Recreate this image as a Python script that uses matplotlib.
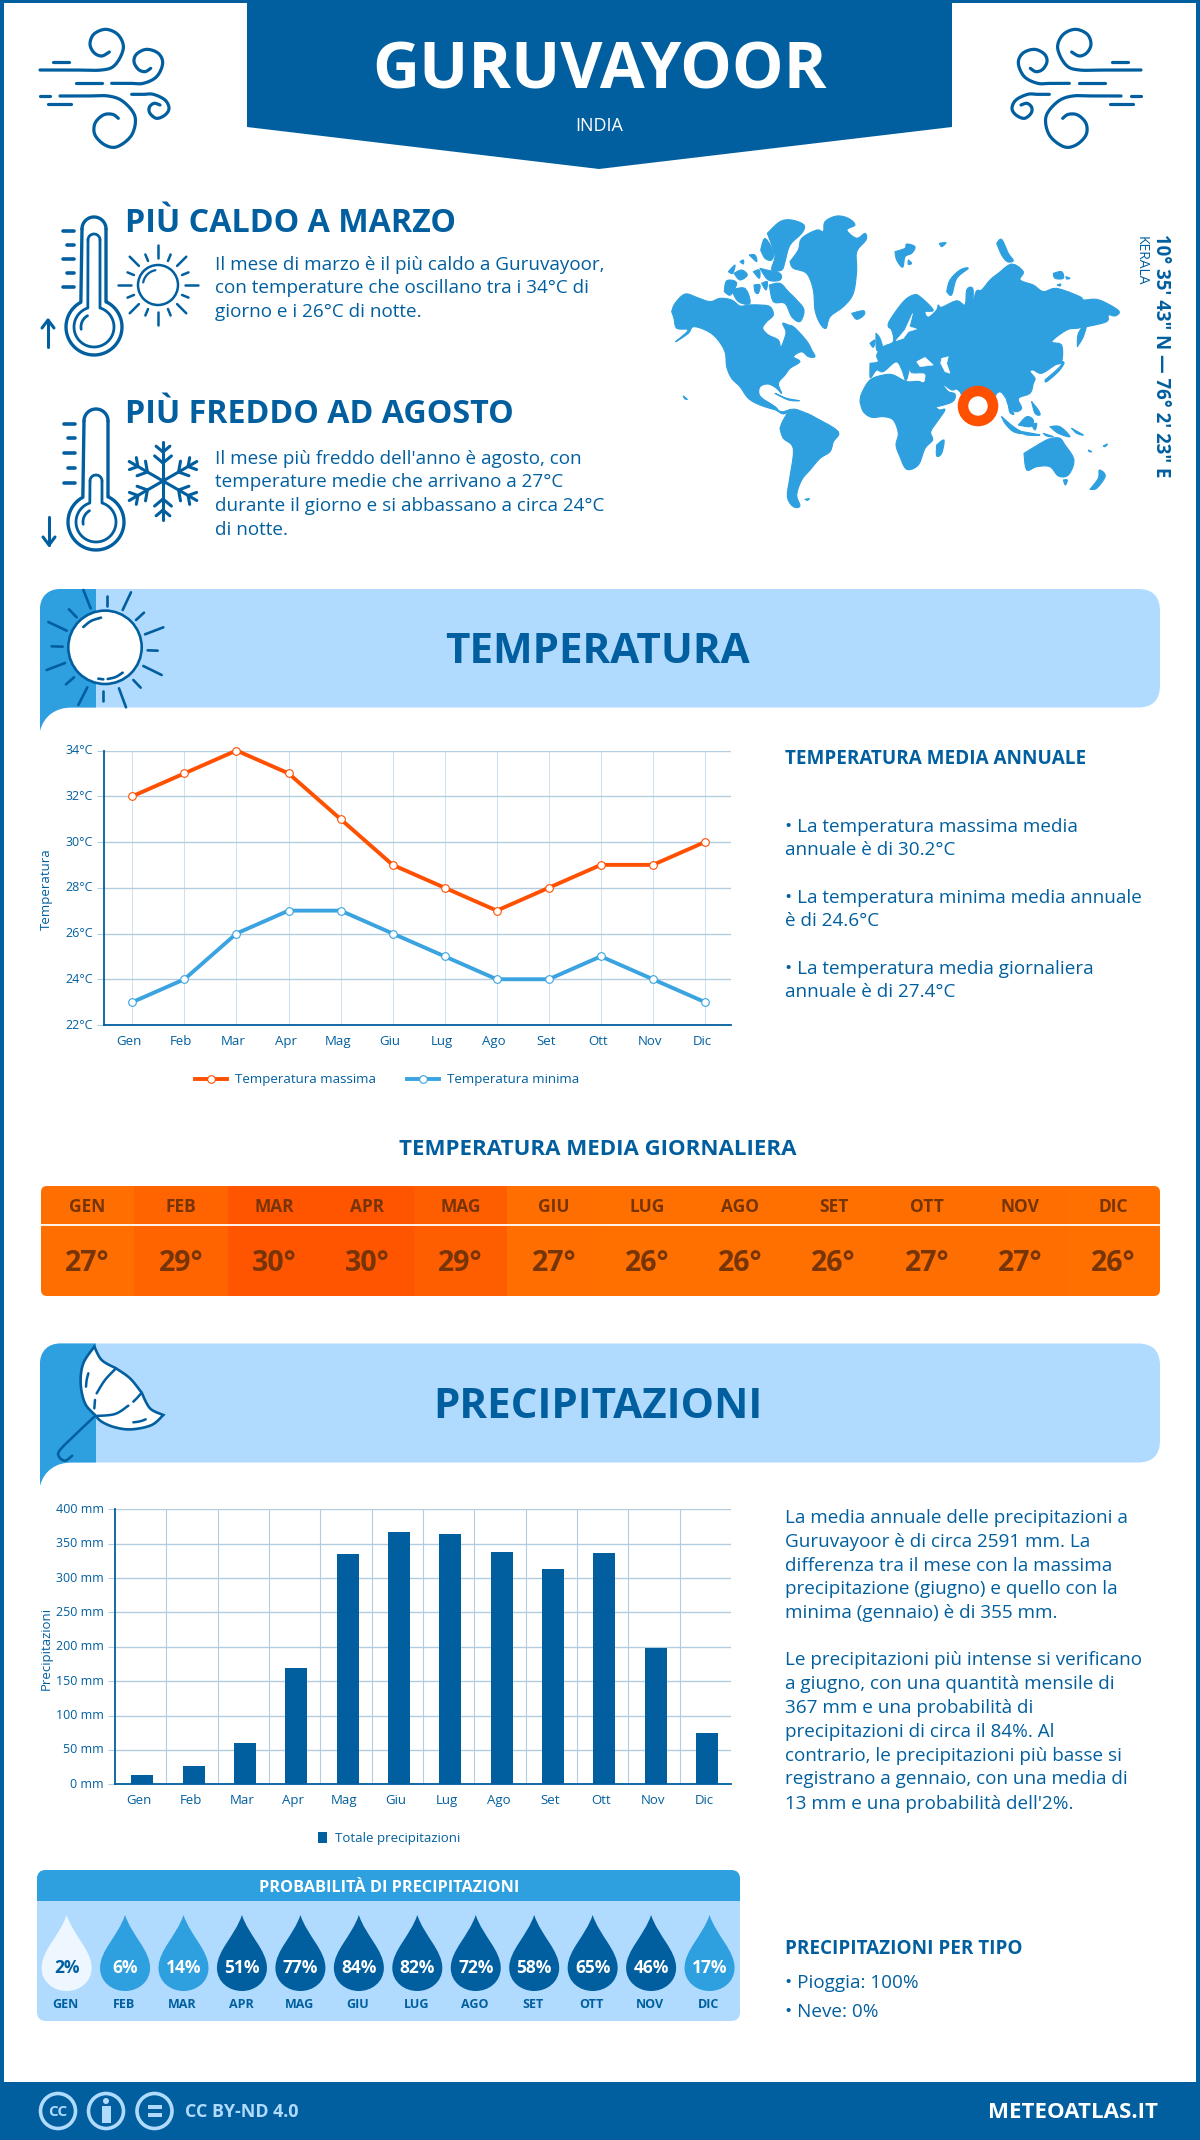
import numpy as np
import matplotlib
matplotlib.use('Agg')
import matplotlib.pyplot as plt
from matplotlib.patches import Circle, Polygon, Rectangle, FancyBboxPatch, PathPatch
from matplotlib.path import Path
from matplotlib.transforms import ScaledTranslation

plt.rcParams['font.family'] = ['Open Sans', 'DejaVu Sans']

# Colores
DARK = '#015F9F'
MID = '#2E9FDF'
LIGHT = '#B0DBFF'
ORANGE = '#FF5000'
GRID = '#B4CCE0'
BROWN = '#773406'

# Datos
mesi = ['Gen', 'Feb', 'Mar', 'Apr', 'Mag', 'Giu', 'Lug', 'Ago', 'Set', 'Ott', 'Nov', 'Dic']
mesi_upper = [m.upper() for m in mesi]
t_max = [32, 33, 34, 33, 31, 29, 28, 27, 28, 29, 29, 30]
t_min = [23, 24, 26, 27, 27, 26, 25, 24, 24, 25, 24, 23]
t_ticks = [22, 24, 26, 28, 30, 32, 34]
t_media = [27, 29, 30, 30, 29, 27, 26, 26, 26, 27, 27, 26]
t_colors = ['#FF6E00', '#FF6400', '#FF5500', '#FF5500', '#FF5E00', '#FF6E00',
            '#FF7000', '#FF7000', '#FF7000', '#FF6E00', '#FF6E00', '#FF7000']
precip = [13, 27, 60, 169, 335, 367, 364, 338, 313, 336, 198, 75]
p_ticks = [0, 50, 100, 150, 200, 250, 300, 350, 400]
prob = [2, 6, 14, 51, 77, 84, 82, 72, 58, 65, 46, 17]

W, H = 1200, 2140
BODY = 13.6
fig = plt.figure(figsize=(W / 100, H / 100), dpi=100)
bg = fig.add_axes([0, 0, 1, 1])
bg.set_xlim(0, W)
bg.set_ylim(H, 0)
bg.axis('off')


def txt(x, y, s, size, color=DARK, weight='normal', ha='left', va='center', **kw):
    bg.text(x, y + 0.14 * size, s, fontsize=size, color=color, fontweight=weight, ha=ha, va=va, **kw)


def stroke(xs, ys, lw=2.2, color=DARK, **kw):
    bg.plot(xs, ys, color=color, lw=lw, solid_capstyle='round', solid_joinstyle='round', **kw)


def arc(cx, cy, r0, r1, a0, a1, n=60):
    a = np.radians(np.linspace(a0, a1, n))
    r = np.linspace(r0, r1, n)
    return cx + r * np.cos(a), cy + r * np.sin(a)


def smooth(pts, n=12):
    # Catmull-Rom para los iconos
    p = np.array([pts[0]] + list(pts) + [pts[-1]], dtype=float)
    out = []
    for i in range(1, len(p) - 2):
        for t in np.linspace(0, 1, n, endpoint=False):
            out.append(0.5 * (2 * p[i] + (p[i + 1] - p[i - 1]) * t
                              + (2 * p[i - 1] - 5 * p[i] + 4 * p[i + 1] - p[i + 2]) * t ** 2
                              + (3 * p[i] - p[i - 1] - 3 * p[i + 1] + p[i + 2]) * t ** 3))
    out.append(p[-2])
    return np.array(out)


def crop(ox, oy, pts):
    return [(ox + a / 3, oy + b / 3) for a, b in pts]


def land(pts, color=MID, lw=0.8):
    xy = smooth(list(pts) + [pts[0]], n=4)
    bg.add_patch(Polygon(xy, fc=color, ec=color, lw=lw, joinstyle='round'))


# Marco y pie
bg.add_patch(Rectangle((0, 0), W, 3, color=DARK, lw=0))
bg.add_patch(Rectangle((0, 0), 4, H, color=DARK, lw=0))
bg.add_patch(Rectangle((W - 4, 0), 4, H, color=DARK, lw=0))
bg.add_patch(Rectangle((0, 2082), W, 58, color=DARK, lw=0))

# Cabecera
bg.add_patch(Polygon([(247, 0), (952, 0), (952, 127), (599, 169), (247, 127)], color=DARK, lw=0))
txt(600, 65, 'GURUVAYOOR', 46.8, color='white', weight='bold', ha='center')
txt(599, 124.5, 'INDIA', 13, color='white', ha='center')

wind_curves = [
    [(30, 150), (130, 150), (215, 150), (255, 135), (280, 85), (265, 45), (228, 28), (192, 42), (180, 72), (192, 98),
     (215, 108), (238, 96)],
    [(245, 190), (300, 190), (340, 190), (380, 170), (398, 130), (385, 100), (350, 88), (320, 102), (312, 125),
     (325, 148), (345, 155), (362, 145)],
    [(90, 228), (170, 228), (235, 228), (280, 245), (315, 290), (305, 345), (262, 380), (225, 375), (195, 345),
     (195, 310), (220, 285), (248, 283), (265, 295)],
    [(305, 223), (340, 223), (370, 223), (405, 240), (417, 265), (405, 285), (380, 295), (360, 280), (358, 262),
     (372, 250), (390, 255)],
    [(68, 125), (118, 125)], [(138, 190), (215, 190)], [(30, 228), (60, 228)], [(55, 253), (123, 253)],
]
for mx in [None, 1181]:
    for c in wind_curves:
        xy = smooth(crop(30, 20, c)) if len(c) > 2 else np.array(crop(30, 20, c))
        stroke(xy[:, 0] if mx is None else mx - xy[:, 0], xy[:, 1], lw=2.3)


def thermometer(cx, cy, top, inner_top, ticks, tx):
    x, y = arc(cx, cy, 28, 28, -62, 242)
    stroke(np.r_[cx - 12, x[::-1], cx + 12, cx + 12], np.r_[top + 12, y[::-1], cy - 25, top + 12], lw=2.4)
    x, y = arc(cx, top + 12, 12, 12, 180, 360)
    stroke(x, y, lw=2.4)
    x, y = arc(cx, cy, 20, 20, -72, 252)
    stroke(np.r_[cx - 6, x[::-1], cx + 6, cx + 6], np.r_[inner_top + 6, y[::-1], cy - 19, inner_top + 6], lw=2.0)
    x, y = arc(cx, inner_top + 6, 6, 6, 180, 360)
    stroke(x, y, lw=2.0)
    x, y = arc(cx, cy, 13, 13, 170, 240)
    stroke(x, y, lw=2.0)
    for i, ty in enumerate(ticks):
        stroke([tx if i % 2 == 0 else tx + 4, tx + 11], [ty, ty], lw=2.6)


thermometer(94, 327, 217, 234, [231, 245, 259, 273, 287], 63)
thermometer(96, 522, 409, 475, [424, 438, 453, 468, 483], 64)
# flechas
stroke([48, 48], [347, 320], lw=2.2)
stroke([42, 48, 54], [328, 320, 328], lw=2.2)
stroke([49, 49], [517, 545], lw=2.2)
stroke([43, 49, 55], [537, 545, 537], lw=2.2)

# Sol pequeño
bg.add_patch(Circle((158, 285), 20, fc='white', ec=DARK, lw=1.8))
x, y = arc(158, 285, 15, 15, 190, 260)
stroke(x, y, lw=1.6)
for i, a in enumerate(np.arange(0, 360, 22.5)):
    r0, r1 = (27, 40) if i % 2 == 0 else (26, 33)
    ca, sa = np.cos(np.radians(a)), np.sin(np.radians(a))
    stroke([158 + r0 * ca, 158 + r1 * ca], [285 + r0 * sa, 285 + r1 * sa], lw=1.8)

# Copo de nieve
for a in np.arange(30, 390, 60):
    ca, sa = np.cos(np.radians(a)), np.sin(np.radians(a))
    stroke([163, 163 + 39 * ca], [481, 481 + 39 * sa], lw=2.2)
    for d, s in [(18, 11), (29, 9)]:
        bx, by = 163 + d * ca, 481 + d * sa
        for off in (-50, 50):
            c2, s2 = np.cos(np.radians(a + off)), np.sin(np.radians(a + off))
            stroke([bx, bx + s * c2], [by, by + s * s2], lw=2.2)

# Bloques de texto superiores
txt(125, 220, 'PIÙ CALDO A MARZO', 23.2, weight='bold')
for y, s in zip([263, 286, 310], ['Il mese di marzo è il più caldo a Guruvayoor,',
                                  'con temperature che oscillano tra i 34°C di',
                                  'giorno e i 26°C di notte.']):
    txt(215, y, s, BODY)
txt(125, 411, 'PIÙ FREDDO AD AGOSTO', 23.2, weight='bold')
for y, s in zip([457, 480, 504, 528], ["Il mese più freddo dell'anno è agosto, con",
                                       'temperature medie che arrivano a 27°C',
                                       'durante il giorno e si abbassano a circa 24°C',
                                       'di notte.']):
    txt(215, y, s, BODY)

A = (660, 210)
B = (870, 230)
C = (760, 370)
mapa = [
    # Norteamérica
    (A, [(35, 305), (45, 280), (75, 252), (110, 262), (150, 275), (180, 265), (215, 270), (240, 288), (265, 285),
         (300, 285), (330, 290), (340, 315), (320, 335), (308, 355), (325, 375), (355, 390), (362, 412), (372, 390),
         (378, 365), (368, 340), (385, 345), (400, 350), (425, 375), (445, 400), (455, 420), (465, 440), (445, 440),
         (425, 425), (400, 440), (420, 455), (390, 475), (375, 495), (355, 520), (365, 550), (350, 535), (325, 522),
         (300, 530), (298, 555), (320, 575), (345, 590), (350, 600), (300, 585), (265, 565), (240, 530), (215, 505),
         (200, 470), (195, 425), (170, 385), (140, 362), (100, 350), (85, 370), (47, 395), (85, 360), (50, 355),
         (42, 325)]),
    # Groenlandia
    (A, [(390, 155), (415, 120), (425, 85), (470, 60), (490, 65), (495, 35), (530, 18), (565, 25), (585, 45),
         (560, 60), (590, 85), (615, 70), (618, 90), (590, 125), (590, 180), (580, 250), (550, 290), (510, 320),
         (498, 355), (480, 340), (465, 300), (460, 240), (440, 190), (400, 175)]),
    # Ártico canadiense
    (A, [(322, 70), (360, 35), (395, 30), (432, 45), (425, 70), (390, 105), (375, 155), (365, 180), (335, 180),
         (345, 140), (335, 105)]),
    (A, [(302, 120), (315, 85), (340, 125), (335, 150), (315, 145)]),
    (A, [(328, 225), (360, 220), (385, 245), (410, 270), (432, 300), (420, 335), (395, 320), (375, 280), (340, 275)]),
    (A, [(215, 240), (255, 235), (270, 280), (235, 275)]),
    (A, [(193, 245), (200, 212), (230, 218), (212, 255)]),
    (A, [(205, 185), (225, 165), (218, 190)]),
    (A, [(222, 190), (245, 180), (262, 195), (240, 210)]),
    (A, [(280, 185), (298, 180), (298, 205)]),
    (A, [(300, 175), (320, 180), (360, 190), (360, 210), (325, 210)]),
    (A, [(240, 155), (250, 150), (250, 162)]),
    (A, [(268, 135), (285, 135), (290, 155)]),
    (A, [(282, 225), (300, 225), (295, 250), (285, 245)]),
    (A, [(305, 220), (322, 215), (318, 240)]),
    # Islandia, Gran Bretaña, Irlanda, Cuba, Hawái
    (A, [(575, 310), (610, 302), (612, 315), (590, 328)]),
    (A, [(630, 400), (645, 390), (640, 412)]),
    (A, [(648, 370), (660, 385), (668, 418), (650, 420)]),
    (A, [(70, 558), (82, 568), (74, 566)]),
    # Centroamérica y Cuba
    (C, [(0, 85), (30, 100), (62, 125), (92, 118), (70, 132), (40, 115), (5, 98)]),
    (C, [(45, 70), (80, 85), (118, 92), (85, 90)]),
    # Sudamérica
    (C, [(60, 175), (70, 150), (95, 118), (135, 128), (170, 145), (235, 185), (220, 215), (210, 245), (180, 265),
         (150, 300), (125, 330), (110, 375), (120, 408), (100, 410), (82, 380), (90, 320), (100, 235), (70, 205)]),
    (C, [(135, 388), (148, 386), (142, 391)]),
    # África
    (C, [(300, 95), (305, 70), (330, 30), (370, 15), (400, 15), (440, 35), (490, 40), (530, 115), (555, 118),
         (535, 150), (512, 185), (518, 210), (495, 235), (475, 285), (440, 298), (420, 260), (408, 225), (415, 190),
         (400, 150), (370, 140), (335, 142), (310, 125)]),
    (C, [(530, 225), (552, 210), (545, 250), (530, 258)]),
    # Islas de Eurasia
    (B, [(75, 65), (105, 55), (110, 42), (135, 50), (125, 70), (105, 80), (98, 112), (80, 90)]),
    (B, [(115, 90), (125, 100), (115, 103)]),
    (B, [(208, 40), (228, 38), (215, 50)]),
    (B, [(230, 185), (240, 150), (270, 120), (295, 115), (260, 145), (245, 195)]),
    (B, [(380, 40), (395, 28), (415, 70), (430, 92), (412, 95), (395, 75)]),
    (B, [(550, 130), (575, 125), (580, 145), (555, 145)]),
    (B, [(588, 140), (600, 145), (590, 147)]),
    (B, [(562, 165), (572, 162), (570, 168)]),
    (B, [(622, 350), (625, 310), (650, 280), (640, 320)]),
    (B, [(525, 450), (570, 410), (575, 395), (582, 400), (565, 425), (530, 455)]),
    # Sudeste asiático y Oceanía
    (C, [(725, 140), (760, 170), (790, 190), (760, 185), (735, 160)]),
    (C, [(770, 182), (840, 195), (800, 195)]),
    (C, [(775, 165), (800, 140), (820, 150), (812, 170)]),
    (C, [(815, 165), (830, 160), (825, 180)]),
    (C, [(815, 95), (835, 120), (840, 135), (825, 130)]),
    (C, [(870, 170), (900, 170), (930, 200), (895, 190)]),
    (C, [(850, 190), (880, 200), (860, 198)]),
    (C, [(935, 175), (970, 195), (950, 190)]),
    (C, [(985, 240), (995, 245), (988, 245)]),
    (C, [(1030, 228), (1042, 222), (1036, 230)]),
    (C, [(792, 250), (850, 215), (875, 205), (900, 205), (915, 225), (942, 270), (925, 315), (895, 318), (870, 290),
         (830, 290), (800, 300)]),
    (C, [(910, 330), (922, 330), (916, 345)]),
    (C, [(990, 358), (1015, 325), (1018, 300), (1036, 318), (1010, 355)]),
]
eurasia = crop(*B, [(0, 400), (25, 395), (20, 375), (40, 350), (70, 335), (65, 300), (55, 290), (60, 270), (100, 215),
                    (130, 195), (150, 200), (190, 240), (165, 245), (175, 262), (200, 240), (205, 225), (215, 232),
                    (260, 212), (285, 225), (290, 180), (305, 172), (310, 190), (305, 240), (318, 185), (335, 180),
                    (360, 150), (385, 130), (425, 102), (460, 125), (450, 150), (490, 165), (520, 185), (560, 175),
                    (630, 200), (640, 210), (680, 208), (720, 225), (748, 245), (735, 258), (715, 255), (710, 275),
                    (650, 290), (620, 295), (590, 300), (545, 335), (575, 345), (575, 395), (555, 405), (515, 430),
                    (490, 420), (480, 425), (495, 445), (490, 460)])
eurasia += crop(*C, [(810, 70), (775, 85), (785, 115), (765, 125), (745, 105), (735, 80), (710, 70), (655, 165),
                     (600, 65), (575, 60), (548, 42), (565, 65), (585, 72), (578, 95), (530, 110), (520, 105),
                     (490, 45)])
eurasia += crop(*B, [(165, 455), (165, 430), (125, 428), (120, 412), (108, 452), (96, 420), (78, 395), (40, 425),
                     (20, 420), (5, 440), (0, 440)])
land(eurasia)
for o, poly in mapa:
    land(crop(*o, poly))
land(crop(*C, [(745, 105), (762, 132), (750, 128)]))
# huecos: Caspio, Negro, Báltico
for poly in [[(215, 385), (235, 380), (230, 400), (240, 430), (225, 425), (212, 400)],
             [(140, 395), (165, 382), (190, 405), (150, 410)],
             [(128, 250), (105, 300), (78, 332), (100, 325), (115, 305), (140, 297), (118, 290)]]:
    bg.add_patch(Polygon(crop(*B, poly), fc='white', ec='white', lw=0.4))
bg.add_patch(Circle((978, 406), 15, fc='white', ec=ORANGE, lw=7.6, zorder=5))
bg.text(1161, 356, '10° 35\' 43" N — 76° 2\' 23" E', fontsize=13.4, fontweight='bold', color=DARK,
        rotation=-90, ha='center', va='center')
bg.text(1141, 236, 'KERALA', fontsize=10, color=DARK, rotation=-90, ha='center', va='top')


def banner(y0, y1, curl_y, title):
    bg.add_patch(FancyBboxPatch((40, y0), 1120, y1 - y0, boxstyle='round,pad=0,rounding_size=22', fc=LIGHT, ec='none'))
    verts = [(40, curl_y), (44, y1 + 8), (56, y1), (72, y1), (96, y1), (96, y0), (60, y0), (48, y0), (40, y0 + 8),
             (40, y0 + 20), (40, curl_y)]
    codes = [Path.MOVETO, Path.CURVE4, Path.CURVE4, Path.CURVE4, Path.LINETO, Path.LINETO, Path.LINETO,
             Path.CURVE4, Path.CURVE4, Path.CURVE4, Path.LINETO]
    bg.add_patch(PathPatch(Path(verts, codes), fc=MID, ec='none'))
    txt(598, (y0 + y1) / 2, title, 30.3, weight='bold', ha='center')


banner(589, 707.5, 731, 'TEMPERATURA')
banner(1343.5, 1462.5, 1486, 'PRECIPITAZIONI')

# Sol del banner
rays = [((145, 15), (167, 70)), ((215, 33), (215, 63)), ((288, 22), (263, 75)), ((327, 83), (303, 105)),
        ((385, 127), (330, 148)), ((368, 197), (338, 196)), ((380, 270), (325, 243)), ((317, 308), (295, 285)),
        ((273, 367), (252, 310)), ((203, 349), (203, 318)), ((130, 360), (157, 307)), ((93, 298), (117, 277)),
        ((35, 255), (90, 234)), ((83, 185), (50, 184)), ((95, 137), (40, 111)), ((125, 97), (102, 73))]
for r in rays:
    xy = np.array(crop(35, 585, r))
    stroke(xy[:, 0], xy[:, 1], lw=1.9)
bg.add_patch(Circle((105, 647.3), 36.7, fc='white', ec=DARK, lw=1.9))
for c in [[(145, 126), (168, 108), (198, 98)], [(218, 282), (242, 276), (263, 263)], [(190, 281), (205, 283)]]:
    xy = smooth(crop(35, 585, c)) if len(c) > 2 else np.array(crop(35, 585, c))
    stroke(xy[:, 0], xy[:, 1], lw=1.9)

# Paraguas
canopy = [(178, 20), (200, 60), (243, 85), (285, 115), (320, 158), (345, 205), (385, 225), (350, 255), (290, 268),
          (240, 262), (200, 245), (180, 225), (150, 190), (137, 130), (145, 70), (178, 20)]
xy = np.vstack([smooth(crop(35, 1340, canopy[i:j])) for i, j in [(0, 3), (2, 5), (4, 7), (6, 12), (11, 16)]])
bg.add_patch(Polygon(xy, fc='white', ec=DARK, lw=1.9, joinstyle='miter'))
for c in [[(243, 85), (210, 120), (185, 160)], [(180, 180), (179, 192), (178, 205)], [(320, 158), (308, 172), (295, 185)],
          [(280, 197), (240, 222), (183, 228)], [(160, 100), (155, 120), (153, 140)], [(295, 247), (315, 244), (332, 238)],
          [(180, 228), (125, 280), (75, 330), (72, 350), (90, 362), (112, 347)]]:
    xy = smooth(crop(35, 1340, c))
    stroke(xy[:, 0], xy[:, 1], lw=1.8)


def px_axes(x0, x1, y_top, y_bot):
    return fig.add_axes([x0 / W, 1 - y_bot / H, (x1 - x0) / W, (y_bot - y_top) / H], facecolor='none')


def style_chart(ax, ylab, lab_x, lab_y, dx):
    for s in ['top', 'right']:
        ax.spines[s].set_visible(False)
    for s in ['left', 'bottom']:
        ax.spines[s].set_color(DARK)
        ax.spines[s].set_linewidth(1.3)
    ax.set_axisbelow(True)
    ax.tick_params(axis='y', length=5, width=0.8, color=GRID, labelsize=9, labelcolor=DARK, pad=3)
    ax.tick_params(axis='x', length=0, labelsize=9.5, labelcolor=DARK, pad=7)
    bg.text(lab_x, lab_y, ylab, fontsize=9.5, color=DARK, rotation=90, ha='center', va='center')
    off = ScaledTranslation(dx / 100, 0, fig.dpi_scale_trans)
    for lab in ax.get_xticklabels():
        lab.set_transform(lab.get_transform() + off)
    up = ScaledTranslation(0, 1.5 / 100, fig.dpi_scale_trans)
    for lab in ax.get_yticklabels():
        lab.set_transform(lab.get_transform() + up)


# Gráfico de temperatura
ax1 = px_axes(104, 731, 750.5, 1025)
ax1.set_xlim(-0.545, 11.5)
ax1.set_ylim(22, 34)
ax1.set_xticks(range(12))
ax1.set_xticklabels(mesi)
ax1.set_yticks(t_ticks)
ax1.set_yticklabels([f'{t}°C' for t in t_ticks])
ax1.grid(axis='y', color=GRID, lw=1.0)
ax1.grid(axis='x', color='#C6DBEB', lw=0.6)
l1, = ax1.plot(range(12), t_max, color=ORANGE, lw=2.8, marker='o', ms=5.5, mfc='white', mec=ORANGE, mew=0.8,
               label='Temperatura massima', clip_on=False)
l2, = ax1.plot(range(12), t_min, color='#3AA3E0', lw=2.8, marker='o', ms=5.5, mfc='white', mec='#3AA3E0', mew=0.8,
               label='Temperatura minima', clip_on=False)
style_chart(ax1, 'Temperatura', 46, 889, -3)
fig.legend(handles=[l1, l2], loc='center', bbox_to_anchor=(387 / W, 1 - 1080 / H), ncol=2, frameon=False,
           fontsize=9.5, labelcolor=DARK, handlelength=2.4, columnspacing=2.4, handletextpad=0.6)

txt(785, 757, 'TEMPERATURA MEDIA ANNUALE', 13.6, weight='bold')
for y, s in zip([825, 848, 896, 919, 967, 990.5],
                ['• La temperatura massima media', 'annuale è di 30.2°C',
                 '• La temperatura minima media annuale', 'è di 24.6°C',
                 '• La temperatura media giornaliera', 'annuale è di 27.4°C']):
    txt(785, y, s, BODY)

# Tabla de temperatura media
txt(598, 1147, 'TEMPERATURA MEDIA GIORNALIERA', 16, weight='bold', ha='center')
tab = FancyBboxPatch((41, 1186), 1119, 110, boxstyle='round,pad=0,rounding_size=6', fc='none', ec='none')
bg.add_patch(tab)
cw = 1119 / 12
for i in range(12):
    r = Rectangle((41 + i * cw, 1186), cw + 0.5, 110, fc=t_colors[i], ec='none')
    bg.add_patch(r)
    r.set_clip_path(tab)
    txt(41 + (i + 0.5) * cw, 1205.5, mesi_upper[i], 12.5, color=BROWN, weight='bold', ha='center')
    txt(41 + (i + 0.5) * cw, 1261, f'{t_media[i]}°', 20.5, color=BROWN, weight='bold', ha='center')
bg.plot([41, 1160], [1225, 1225], color='white', lw=1.3)

# Gráfico de precipitaciones
ax2 = px_axes(115, 731, 1509.3, 1784.3)
ax2.set_xlim(-0.5, 11.5)
ax2.set_ylim(0, 400)
b = ax2.bar(np.arange(12) + 0.03, precip, width=0.43, color=DARK, label='Totale precipitazioni', zorder=3)
ax2.set_xticks(range(12))
ax2.set_xticklabels(mesi)
ax2.set_yticks(p_ticks)
ax2.set_yticklabels([f'{t} mm' for t in p_ticks])
ax2.grid(axis='y', color=GRID, lw=1.0)
for xv in np.arange(0.5, 11.5, 1):
    ax2.axvline(xv, color=GRID, lw=0.8, zorder=0)
style_chart(ax2, 'Precipitazioni', 46, 1648, -1.5)
fig.legend(handles=[b], loc='center', bbox_to_anchor=(389 / W, 1 - 1838.7 / H), frameon=False, fontsize=9.5,
           labelcolor=DARK, handlelength=0.7, handleheight=0.9, handletextpad=0.6)

for y, s in zip([1516.5, 1540.5, 1564, 1587, 1611],
                ['La media annuale delle precipitazioni a', 'Guruvayoor è di circa 2591 mm. La',
                 'differenza tra il mese con la massima', 'precipitazione (giugno) e quello con la',
                 'minima (gennaio) è di 355 mm.']):
    txt(785, y, s, BODY)
for y, s in zip([1658.5, 1682, 1706, 1730, 1754, 1777, 1802],
                ['Le precipitazioni più intense si verificano', 'a giugno, con una quantità mensile di',
                 '367 mm e una probabilità di', 'precipitazioni di circa il 84%. Al',
                 'contrario, le precipitazioni più basse si', 'registrano a gennaio, con una media di',
                 "13 mm e una probabilità dell'2%."]):
    txt(785, y, s, BODY)

# Panel de probabilidad
panel = FancyBboxPatch((37, 1870), 703, 151, boxstyle='round,pad=0,rounding_size=9', fc=LIGHT, ec='none')
bg.add_patch(panel)
hd = Rectangle((37, 1870), 703, 31, fc=MID, ec='none')
bg.add_patch(hd)
hd.set_clip_path(panel)
txt(389, 1886, 'PROBABILITÀ DI PRECIPITAZIONI', 11.7, color='white', weight='bold', ha='center')
for i, p in enumerate(prob):
    cx = 66.6 + i * 58.45
    fc = '#EEF7FF' if p < 5 else (MID if p < 30 else DARK)
    verts = [(cx, 1915), (cx + 7, 1936), (cx + 25, 1950), (cx + 25, 1968), (cx + 25, 1982), (cx + 13, 1991),
             (cx, 1991), (cx - 13, 1991), (cx - 25, 1982), (cx - 25, 1968), (cx - 25, 1950), (cx - 7, 1936),
             (cx, 1915)]
    bg.add_patch(PathPatch(Path(verts, [Path.MOVETO] + [Path.CURVE4] * 12), fc=fc, ec='none'))
    txt(cx, 1966, f'{p}%', 12.5, color=DARK if p < 5 else 'white', weight='bold', ha='center')
    txt(cx - 1, 2003.5, mesi_upper[i], 9, weight='bold', ha='center')

txt(785, 1947, 'PRECIPITAZIONI PER TIPO', 13.6, weight='bold')
txt(785, 1981, '• Pioggia: 100%', BODY)
txt(785, 2010, '• Neve: 0%', BODY)

# Pie
for cx in [58, 106, 154.5]:
    bg.add_patch(Circle((cx, 2111), 17.5, fc='none', ec=LIGHT, lw=2.6))
txt(58, 2110, 'CC', 11, color=LIGHT, weight='bold', ha='center')
bg.add_patch(Circle((106, 2101), 3, fc=LIGHT, ec='none'))
bg.add_patch(Rectangle((101.5, 2106), 9, 17, fc=LIGHT, ec='none'))
bg.add_patch(Rectangle((147.5, 2105), 14, 4, fc=LIGHT, ec='none'))
bg.add_patch(Rectangle((147.5, 2113), 14, 4, fc=LIGHT, ec='none'))
txt(185, 2110, 'CC BY-ND 4.0', 12.9, color=LIGHT, weight='bold')
txt(1158, 2110, 'METEOATLAS.IT', 16, color='white', weight='bold', ha='right')

fig.savefig('out.png', dpi=100)
